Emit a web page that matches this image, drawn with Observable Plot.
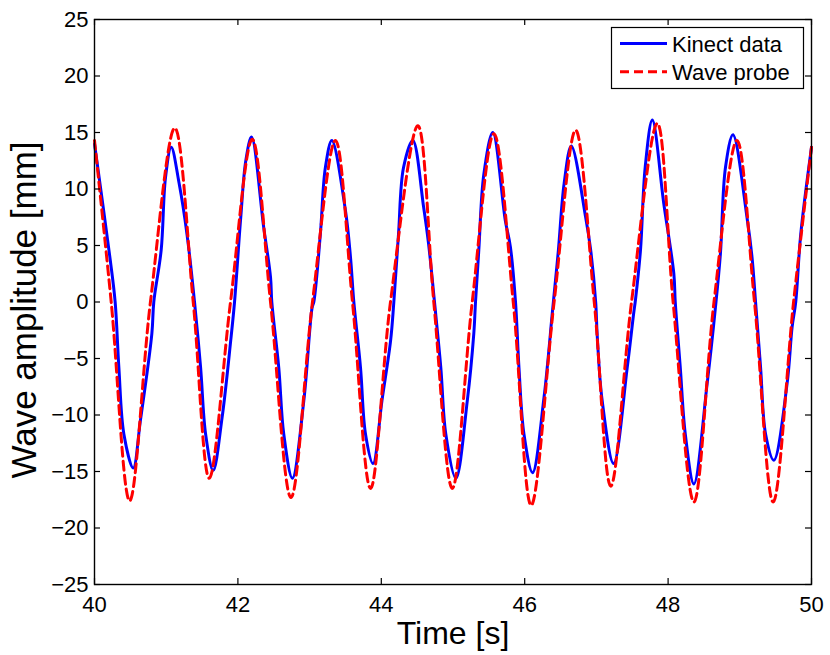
<!DOCTYPE html>
<html>
<head>
<meta charset="utf-8">
<script src="https://cdn.jsdelivr.net/npm/d3@7"></script>
<script src="https://cdn.jsdelivr.net/npm/@observablehq/plot@0.6"></script>
<style>
  html, body { margin: 0; padding: 0; background: #fff; }
  #wrap { position: relative; width: 830px; height: 655px; }
  #legend { position: absolute; left: 0; top: 0; }
  svg { font-family: "Liberation Sans", Arial, Helvetica, sans-serif; }
</style>
</head>
<body>
<div id="wrap"></div>
<script>
// Kinect data (blue, solid): time [s] and amplitude [mm]
const kinectTime = [
  40.00, 40.22, 40.288, 40.34, 40.41, 40.54, 40.64, 40.80, 40.827, 40.93, 40.99, 41.07,
  41.18, 41.29, 41.395, 41.48, 41.55, 41.655, 41.78, 41.90, 41.953, 42.04, 42.11, 42.19,
  42.36, 42.455, 42.473, 42.57, 42.64, 42.76, 42.92, 43.035, 43.059, 43.15, 43.22, 43.31,
  43.50, 43.57, 43.617, 43.71, 43.78, 43.885, 44.01, 44.13, 44.175, 44.24, 44.31, 44.44,
  44.59, 44.66, 44.742, 44.83, 44.90, 45.04, 45.20, 45.29, 45.314, 45.36, 45.43, 45.555,
  45.73, 45.80, 45.872, 45.92, 45.99, 46.11, 46.27, 46.38, 46.40, 46.47, 46.55, 46.65,
  46.85, 46.92, 46.99, 47.01, 47.08, 47.24, 47.43, 47.52, 47.545, 47.615, 47.68, 47.78,
  47.94, 48.08, 48.10, 48.17, 48.24, 48.36, 48.545, 48.66, 48.73, 48.80, 48.905,
  49.10, 49.17, 49.22, 49.29, 49.36, 49.475, 49.66, 49.73, 49.78, 49.85, 50.00
];
const kinectAmp = [
  14.0, 3.7, 0, -5.8, -11.7, -14.7, -10.5, -2.8, 0, 4.6, 11.0, 13.7,
  10.5, 6.0, 0, -5.8, -11.7, -14.9, -10.2, -3.4, 0, 7.5, 12.5, 14.6,
  6.6, 2.2, 0, -5.8, -11.7, -15.6, -8.7, -0.5, 0, 6.0, 11.9, 14.3,
  8.1, 4.0, 0, -5.8, -11.7, -14.3, -8.7, -3.4, 0, 6.0, 11.9, 14.3,
  8.4, 5.1, 0, -5.8, -11.7, -15.6, -8.7, -2.8, 0, 4.6, 11.3, 15.0,
  7.2, 4.9, 0, -5.8, -11.7, -15.1, -8.4, -1.3, 0, 4.6, 10.5, 13.8,
  7.5, 4.6, 0, -2.8, -8.7, -14.3, -5.8, -1.0, 0.2, 4.6, 11.9, 16.1,
  8.7, 2.5, 0, -5.8, -11.7, -16.1, -7.2, -0.5, 4.3, 11.9, 14.8,
  7.5, 4.0, 0, -5.8, -11.7, -14.0, -7.2, -2.2, 0, 6.0, 13.7
];
// Wave probe (red, dashed)
const probeTime = [
  40.00, 40.233, 40.49, 40.78, 41.12, 41.377, 41.60, 41.897, 42.20, 42.455, 42.74,
  43.04, 43.36, 43.598, 43.85, 44.128, 44.51, 44.732, 44.99, 45.268, 45.57, 45.84,
  46.09, 46.41, 46.71, 46.97, 47.20, 47.49, 47.85, 48.07, 48.36, 48.64, 48.96,
  49.205, 49.465, 49.75, 50.00
];
const probeAmp = [
  14.3, 0, -17.6, 0, 15.4, 0, -15.6, 0, 14.4, 0, -17.3,
  0, 14.3, 0, -16.5, 0, 15.6, 0, -16.5, 0, 14.9, 0,
  -18.0, 0, 15.2, 0, -16.3, 0, 15.8, 0, -17.7, 0, 14.3,
  0, -17.7, 0, 13.7
];
const xTicks = [40, 42, 44, 46, 48, 50];
const yTicks = [-25, -20, -15, -10, -5, 0, 5, 10, 15, 20, 25];
const seriesNames = ["Kinect data", "Wave probe"];
const xLabel = "Time [s]";
const yLabel = "Wave amplitude [mm]";

const kinect = kinectTime.map((t, i) => ({t, v: kinectAmp[i]}));
const probe = probeTime.map((t, i) => ({t, v: probeAmp[i]}));

const W = 830, H = 655, mL = 94, mR = 19, mT = 19, mB = 71;
const fw = W - mL - mR, fh = H - mT - mB, tk = 6;
const font = '"Liberation Sans", Arial, Helvetica, sans-serif';

const chart = Plot.plot({
  width: W, height: H,
  marginLeft: mL, marginRight: mR, marginTop: mT, marginBottom: mB,
  x: {domain: [40, 50]},
  y: {domain: [-25, 25]},
  style: {fontFamily: font, color: "black", background: "white"},
  marks: [
    Plot.line(kinect, {x: "t", y: "v", stroke: "#0000ff", strokeWidth: 3, curve: "catmull-rom"}),
    Plot.line(probe, {x: "t", y: "v", stroke: "#ff0000", strokeWidth: 3, strokeDasharray: "9,5", curve: "catmull-rom"}),
    Plot.tickX(xTicks, {x: d => d, insetTop: fh - tk, stroke: "black", strokeWidth: 1.2}),
    Plot.tickX(xTicks, {x: d => d, insetBottom: fh - tk, stroke: "black", strokeWidth: 1.2}),
    Plot.tickY(yTicks, {y: d => d, insetRight: fw - tk, stroke: "black", strokeWidth: 1.2}),
    Plot.tickY(yTicks, {y: d => d, insetLeft: fw - tk, stroke: "black", strokeWidth: 1.2}),
    Plot.frame({stroke: "black", strokeWidth: 1.4}),
    Plot.axisX({ticks: xTicks, tickSize: 0, tickPadding: 12, fontSize: 22, label: null, tickFormat: d => String(d)}),
    Plot.axisY({ticks: yTicks, tickSize: 0, tickPadding: 6, fontSize: 22, label: null}),
    Plot.text([xLabel], {frameAnchor: "bottom", textAnchor: "middle", lineAnchor: "middle", dy: 49, fontSize: 32, fill: "black"}),
    Plot.text([yLabel], {frameAnchor: "left", textAnchor: "middle", lineAnchor: "middle", rotate: -90, dx: -70, dy: 8, fontSize: 35, fill: "black"})
  ]
});
const wrap = document.getElementById("wrap");
wrap.appendChild(chart);

// Legend overlay (top-right, inside the frame)
const ns = "http://www.w3.org/2000/svg";
const leg = document.createElementNS(ns, "svg");
leg.setAttribute("id", "legend");
leg.setAttribute("width", W);
leg.setAttribute("height", H);
const lx = 611, ly = 27, lw = 192, lh = 61;
const rect = document.createElementNS(ns, "rect");
rect.setAttribute("x", lx + 0.5); rect.setAttribute("y", ly + 0.5);
rect.setAttribute("width", lw); rect.setAttribute("height", lh);
rect.setAttribute("fill", "white"); rect.setAttribute("stroke", "black"); rect.setAttribute("stroke-width", 1.2);
leg.appendChild(rect);
const styles = [{stroke: "#0000ff", dash: null}, {stroke: "#ff0000", dash: "9,5"}];
seriesNames.forEach((name, i) => {
  const cy = 43.5 + i * 28.3;
  const ln = document.createElementNS(ns, "line");
  ln.setAttribute("x1", 620); ln.setAttribute("x2", 667);
  ln.setAttribute("y1", cy); ln.setAttribute("y2", cy);
  ln.setAttribute("stroke", styles[i].stroke); ln.setAttribute("stroke-width", 3);
  if (styles[i].dash) ln.setAttribute("stroke-dasharray", styles[i].dash);
  leg.appendChild(ln);
  const tx = document.createElementNS(ns, "text");
  tx.setAttribute("x", 672); tx.setAttribute("y", cy + 8);
  tx.setAttribute("font-size", 22); tx.setAttribute("fill", "black");
  tx.textContent = name;
  leg.appendChild(tx);
});
wrap.appendChild(leg);
</script>
</body>
</html>
